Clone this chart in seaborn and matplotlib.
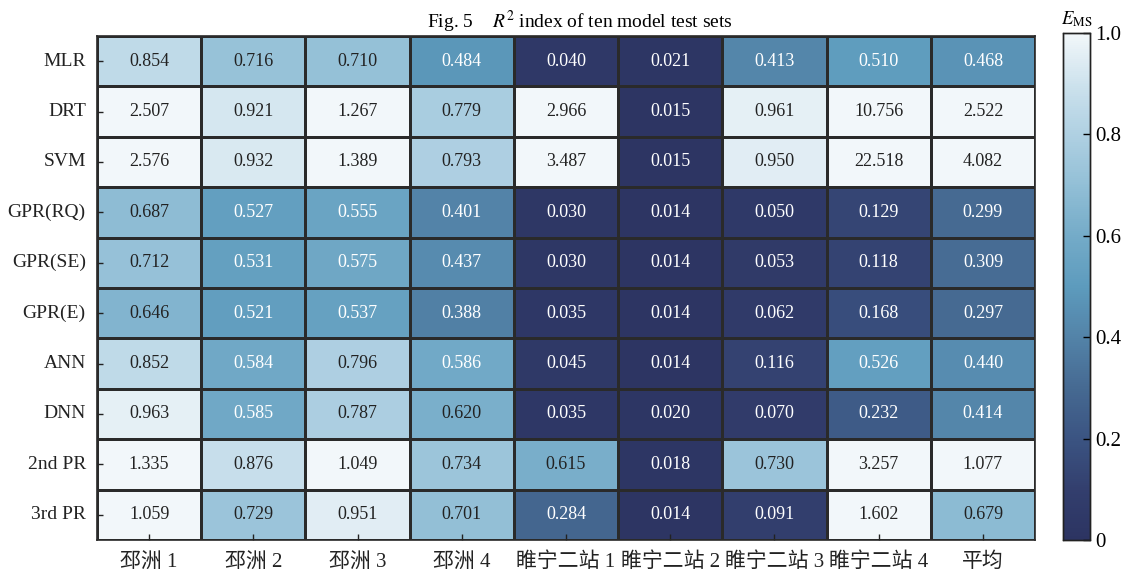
import numpy as np
import pandas as pd
import matplotlib
matplotlib.use("Agg")
import matplotlib.pyplot as plt
from matplotlib.colors import LinearSegmentedColormap
import seaborn as sns

models = ["MLR", "DRT", "SVM", "GPR(RQ)", "GPR(SE)", "GPR(E)", "ANN", "DNN", "2nd PR", "3rd PR"]
sites = ["邳洲 1", "邳洲 2", "邳洲 3", "邳洲 4",
         "睢宁二站 1", "睢宁二站 2", "睢宁二站 3", "睢宁二站 4", "平均"]

mlr = [0.854, 0.716, 0.710, 0.484, 0.040, 0.021, 0.413, 0.510, 0.468]
drt = [2.507, 0.921, 1.267, 0.779, 2.966, 0.015, 0.961, 10.756, 2.522]
svm = [2.576, 0.932, 1.389, 0.793, 3.487, 0.015, 0.950, 22.518, 4.082]
gpr_rq = [0.687, 0.527, 0.555, 0.401, 0.030, 0.014, 0.050, 0.129, 0.299]
gpr_se = [0.712, 0.531, 0.575, 0.437, 0.030, 0.014, 0.053, 0.118, 0.309]
gpr_e = [0.646, 0.521, 0.537, 0.388, 0.035, 0.014, 0.062, 0.168, 0.297]
ann = [0.852, 0.584, 0.796, 0.586, 0.045, 0.014, 0.116, 0.526, 0.440]
dnn = [0.963, 0.585, 0.787, 0.620, 0.035, 0.020, 0.070, 0.232, 0.414]
pr2 = [1.335, 0.876, 1.049, 0.734, 0.615, 0.018, 0.730, 3.257, 1.077]
pr3 = [1.059, 0.729, 0.951, 0.701, 0.284, 0.014, 0.091, 1.602, 0.679]

cbar_ticks = [0, 0.2, 0.4, 0.6, 0.8, 1.0]
cbar_ticklabels = ["0", "0.2", "0.4", "0.6", "0.8", "1.0"]

df = pd.DataFrame([mlr, drt, svm, gpr_rq, gpr_se, gpr_e, ann, dnn, pr2, pr3],
                  index=models, columns=sites)

plt.rcParams["font.family"] = ["Liberation Serif", "Noto Sans CJK SC"]
plt.rcParams["mathtext.fontset"] = "stix"

cmap = LinearSegmentedColormap.from_list("navy_ice", [
    (0.0, "#2c3462"), (0.1, "#333f6e"), (0.2, "#3b5482"), (0.3, "#466a92"),
    (0.4, "#5383a8"), (0.5, "#5d9bbd"), (0.6, "#74abc8"), (0.7, "#92bfd6"),
    (0.8, "#afd0e2"), (0.9, "#cde2ed"), (1.0, "#f2f7fa")])

fig = plt.figure(figsize=(11.29, 5.75), dpi=100)
ax = fig.add_axes([0.0859, 0.0609, 0.8309, 0.8765])
cax = fig.add_axes([0.9415, 0.0609, 0.0239, 0.8817])

sns.heatmap(df, ax=ax, cbar_ax=cax, cmap=cmap, vmin=0, vmax=1,
            annot=True, fmt=".3f", annot_kws={"fontsize": 13},
            linewidths=1.0, linecolor="#2a2a2a",
            cbar_kws={"ticks": cbar_ticks})

# light cells get dark numbers, dark cells get white numbers
for txt, val in zip(ax.texts, df.values.flatten()):
    txt.set_color("#222222" if val >= 0.6 else "white")

for side in ax.spines.values():
    side.set_visible(True)
    side.set_linewidth(1.2)
    side.set_color("#2a2a2a")

ax.tick_params(axis="both", direction="in", length=4, width=1, colors="#222222")
ax.tick_params(axis="y", pad=8, labelsize=14)
ax.tick_params(axis="x", pad=9, labelsize=15)
ax.set_yticklabels(models, rotation=0)
ax.set_xticklabels(sites, rotation=0)
ax.set_xlabel("")
ax.set_ylabel("")
ax.set_title(r"Fig. 5    $R^2$ index of ten model test sets", fontsize=14,
             x=0.515, pad=6)

cax.set_yticklabels(cbar_ticklabels)
cax.tick_params(direction="in", length=5, width=1, labelsize=15, pad=4)
for side in cax.spines.values():
    side.set_visible(True)
    side.set_linewidth(1)
    side.set_color("#222222")
cax.set_title(r"$E_{\rm MS}$", fontsize=13.5, pad=6)

fig.savefig("out.png", dpi=100)
